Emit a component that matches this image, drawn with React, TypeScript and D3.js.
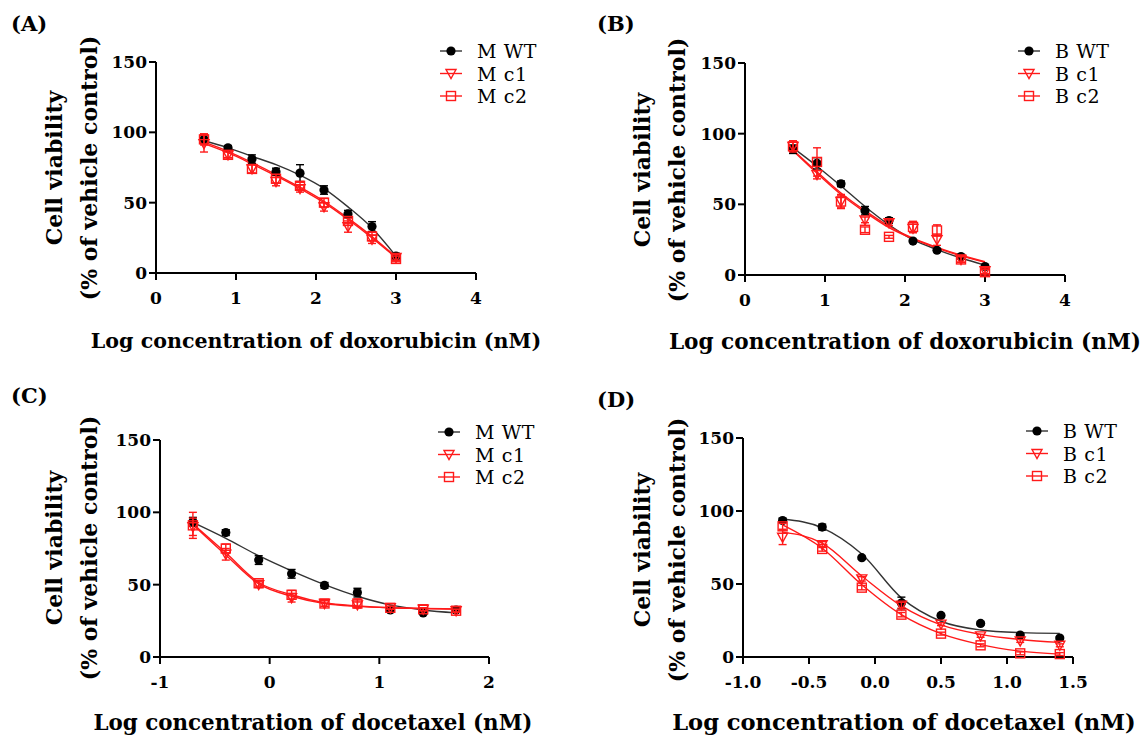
import * as d3 from 'd3';

// ---- data ----
const doseDox = [0.6, 0.9, 1.2, 1.5, 1.8, 2.1, 2.4, 2.7, 3.0];
const doseDtx = [-0.7, -0.4, -0.1, 0.2, 0.5, 0.8, 1.1, 1.4, 1.7];
const doseDtxB = [-0.7, -0.4, -0.1, 0.2, 0.5, 0.8, 1.1, 1.4];

// (A) M cells, doxorubicin
const aWT = [95, 89, 81, 72, 71, 59, 42, 33, 12];
const aWTsd = [3, 1.5, 3, 2.5, 6, 3, 2.5, 3.5, 2];
const aC1 = [92, 84, 74, 65, 60, 47, 33, 24, 11];
const aC1sd = [6, 3, 3, 3, 2.5, 3, 4, 3, 2];
const aC2 = [95, 84, 74, 67, 62, 50, 37, 26, 10];
const aC2sd = [4, 2, 3, 3, 2.5, 3, 2, 3, 2];
const aWTfit = [94, 89, 83, 77, 69.5, 60, 47, 32, 12];
const aC1fit = [92, 85.5, 77.5, 69, 60, 50, 38, 25, 11];
const aC2fit = [93, 86.5, 78.5, 70, 61, 51, 39, 26, 11.5];

// (B) B cells, doxorubicin
const bWT = [89, 79, 64.5, 45.5, 38.5, 24, 17.5, 13, 6];
const bWTsd = [3, 4, 2, 3, 2, 1, 1, 1, 1];
const bC1 = [91, 71, 52, 39, 37, 33, 25, 11, 3];
const bC1sd = [3, 3, 4, 2, 2, 3, 4, 2, 2];
const bC2 = [91, 80, 52, 32, 27, 34, 31.5, 11, 2];
const bC2sd = [4, 10, 5, 2, 1, 4, 4, 2, 2];
const bWTfit = [90, 77, 63, 48.5, 35.5, 25, 18, 12, 7];
const bC1fit = [88.5, 73, 58, 45.5, 34.5, 26, 19.5, 14, 9.5];
const bC2fit = [88, 72, 57, 44.5, 33.5, 25.5, 19, 13.5, 9];

// (C) M cells, docetaxel
const cWT = [93.5, 86, 67, 57.5, 49.5, 44.5, 32.5, 30.5, 32.5];
const cWTsd = [3, 2, 3, 3, 2, 3, 1, 1, 1];
const cC1 = [90, 71, 50, 41, 37, 36, 34, 33, 32];
const cC1sd = [6, 4, 2, 3, 2, 2, 1, 1, 1];
const cC2 = [91, 75, 51, 43, 37, 37, 34, 33, 32];
const cC2sd = [9, 3, 2, 3, 2, 3, 1, 1, 1];
const cWTfit = [93, 82, 70, 59.5, 50, 42, 36, 32.5, 30.5];
const cC1fit = [91.5, 70.5, 50.5, 42, 37, 35, 34, 33.5, 33];
const cC2fit = [92, 72, 51.5, 43, 37.5, 35.3, 34, 33.5, 33.3];

// (D) B cells, docetaxel
const dWT = [93.5, 89, 68, 37, 28.5, 23, 15, 13];
const dWTsd = [1.5, 2, 1, 4, 1, 1, 1, 1];
const dC1 = [82, 77, 53.5, 35.5, 22.5, 14.5, 11, 8];
const dC1sd = [5, 2, 1.5, 2, 1, 1, 1, 1];
const dC2 = [89.5, 74, 47.5, 29, 16, 8, 2.5, 2];
const dC2sd = [2, 1.5, 1.5, 1.5, 1, 1, 1, 1];
const dWTfit = [94.5, 88.5, 70.5, 40.5, 24.5, 18.5, 16.7, 16.2];
const dC1fit = [85.5, 78, 55.5, 35, 22, 15.5, 12, 10];
const dC2fit = [90.5, 74.5, 49.5, 29, 16, 8.5, 4, 2];

const yTicks = [0, 50, 100, 150];
const xTicksDox = [0, 1, 2, 3, 4];
const xTicksC = [-1, 0, 1, 2];
const xTicksD = [-1, -0.5, 0, 0.5, 1, 1.5];

const FONT = "'DejaVu Serif', 'Liberation Serif', serif";
const RED = '#ff1a1a';
const BLACK = '#000';

type Series = { y: number[]; sd: number[]; fit: number[]; shape: 'circle' | 'tri' | 'square' };

const fmtInt = (d: number) => String(d).replace('−', '-');
const fmtOne = (d: number) => d.toFixed(1).replace('−', '-');

const Marker = ({ shape, x, y }: { shape: string; x: number; y: number }) => {
  if (shape === 'circle') return <circle cx={x} cy={y} r={4.6} fill={BLACK} />;
  if (shape === 'tri')
    return (
      <path
        d={`M${x - 5},${y - 4} L${x + 5},${y - 4} L${x},${y + 5} Z`}
        fill="none"
        stroke={RED}
        strokeWidth={1.4}
      />
    );
  return <rect x={x - 4.5} y={y - 4.5} width={9} height={9} fill="none" stroke={RED} strokeWidth={1.4} />;
};

const Panel = (p: any) => {
  const x = d3.scaleLinear().domain(p.xDomain).range(p.xRange);
  const y = d3.scaleLinear().domain([0, 150]).range(p.yRange);
  const line = d3
    .line<number>()
    .x((_, i) => x(p.dose[i]))
    .y(d => y(d))
    .curve(d3.curveMonotoneX);
  const [x0, x1] = p.xRange;
  const [y0, y1] = p.yRange;
  const series: Series[] = p.series;

  return (
    <g style={{ fontFamily: FONT }}>
      <text x={p.labelX} y={p.labelY} fontWeight="bold" fontSize={21}>
        {p.label}
      </text>

      {/* y title */}
      <text
        transform={`translate(${p.yTitleX},${p.yTitleY}) rotate(-90)`}
        textAnchor="middle"
        fontWeight="bold"
        fontSize={22}
      >
        <tspan x={0} y={0}>Cell viability</tspan>
        <tspan x={0} y={35}>(% of vehicle control)</tspan>
      </text>

      {/* x title */}
      <text x={p.xTitleX} y={p.xTitleY} textAnchor="middle" fontWeight="bold" fontSize={p.xTitleSize}>
        {p.xTitle}
      </text>

      {/* axes */}
      <line x1={x0} x2={x0} y1={y0} y2={y1} stroke={BLACK} strokeWidth={2} />
      <line x1={x0 - 1} x2={x1} y1={y0} y2={y0} stroke={BLACK} strokeWidth={2} />
      {yTicks.map(t => (
        <g key={'y' + t}>
          <line x1={x0 - 7} x2={x0} y1={y(t)} y2={y(t)} stroke={BLACK} strokeWidth={2} />
          <text x={x0 - 9} y={y(t)} textAnchor="end" dominantBaseline="central" fontWeight="bold" fontSize={17}>
            {t}
          </text>
        </g>
      ))}
      {p.xTicks.map((t: number) => (
        <g key={'x' + t}>
          <line x1={x(t)} x2={x(t)} y1={y0} y2={y0 + 7} stroke={BLACK} strokeWidth={2} />
          <text x={x(t)} y={y0 + 25} textAnchor="middle" dominantBaseline="central" fontWeight="bold" fontSize={17}>
            {p.fmt(t)}
          </text>
        </g>
      ))}

      {/* fitted curves */}
      {series.map((s, k) => (
        <path
          key={'f' + k}
          d={line(s.fit) || ''}
          fill="none"
          stroke={s.shape === 'circle' ? '#333' : RED}
          strokeWidth={1.4}
        />
      ))}

      {/* error bars and points */}
      {series.map((s, k) => (
        <g key={'s' + k}>
          {s.y.map((v, i) => {
            const cx = x(p.dose[i]);
            const col = s.shape === 'circle' ? BLACK : RED;
            const top = y(v + s.sd[i]);
            const bot = y(v - s.sd[i]);
            return (
              <g key={i}>
                <line x1={cx} x2={cx} y1={top} y2={bot} stroke={col} strokeWidth={1.4} />
                <line x1={cx - 4} x2={cx + 4} y1={top} y2={top} stroke={col} strokeWidth={1.4} />
                <line x1={cx - 4} x2={cx + 4} y1={bot} y2={bot} stroke={col} strokeWidth={1.4} />
                <Marker shape={s.shape} x={cx} y={y(v)} />
              </g>
            );
          })}
        </g>
      ))}

      {/* legend */}
      {p.names.map((n: string, i: number) => {
        const ly = p.legendY + i * 22.5;
        const shape = series[i].shape;
        const col = shape === 'circle' ? '#333' : RED;
        return (
          <g key={n}>
            <line x1={p.legendX} x2={p.legendX + 22} y1={ly} y2={ly} stroke={col} strokeWidth={1.4} />
            <Marker shape={shape} x={p.legendX + 11} y={ly} />
            <text x={p.legendX + 37} y={ly} dominantBaseline="central" fontSize={19} letterSpacing={0.6}>
              {n}
            </text>
          </g>
        );
      })}
    </g>
  );
};

const mk = (y: number[], sd: number[], fit: number[], shape: Series['shape']): Series => ({ y, sd, fit, shape });

export default function App() {
  return (
    <svg width={1145} height={738} style={{ position: 'absolute', left: 0, top: 0, background: '#fff' }}>
      <Panel
        label="(A)" labelX={11} labelY={31}
        xDomain={[0, 4]} xRange={[156, 476]} yRange={[273, 62]}
        xTicks={xTicksDox} fmt={fmtInt}
        xTitle="Log concentration of doxorubicin (nM)" xTitleX={316} xTitleY={348} xTitleSize={20.6}
        yTitleX={62} yTitleY={168}
        legendX={440} legendY={51} names={['M WT', 'M c1', 'M c2']}
        dose={doseDox}
        series={[mk(aWT, aWTsd, aWTfit, 'circle'), mk(aC1, aC1sd, aC1fit, 'tri'), mk(aC2, aC2sd, aC2fit, 'square')]}
      />
      <Panel
        label="(B)" labelX={597} labelY={31}
        xDomain={[0, 4]} xRange={[745, 1065]} yRange={[275, 63]}
        xTicks={xTicksDox} fmt={fmtInt}
        xTitle="Log concentration of doxorubicin (nM)" xTitleX={905} xTitleY={349} xTitleSize={21.6}
        yTitleX={650} yTitleY={170}
        legendX={1018} legendY={51} names={['B WT', 'B c1', 'B c2']}
        dose={doseDox}
        series={[mk(bWT, bWTsd, bWTfit, 'circle'), mk(bC1, bC1sd, bC1fit, 'tri'), mk(bC2, bC2sd, bC2fit, 'square')]}
      />
      <Panel
        label="(C)" labelX={11} labelY={403}
        xDomain={[-1, 2]} xRange={[160, 489]} yRange={[657, 440]}
        xTicks={xTicksC} fmt={fmtInt}
        xTitle="Log concentration of docetaxel (nM)" xTitleX={313} xTitleY={730} xTitleSize={21.4}
        yTitleX={62} yTitleY={548}
        legendX={438} legendY={432} names={['M WT', 'M c1', 'M c2']}
        dose={doseDtx}
        series={[mk(cWT, cWTsd, cWTfit, 'circle'), mk(cC1, cC1sd, cC1fit, 'tri'), mk(cC2, cC2sd, cC2fit, 'square')]}
      />
      <Panel
        label="(D)" labelX={597} labelY={407}
        xDomain={[-1, 1.5]} xRange={[743, 1073]} yRange={[657, 438]}
        xTicks={xTicksD} fmt={fmtOne}
        xTitle="Log concentration of docetaxel (nM)" xTitleX={904} xTitleY={730} xTitleSize={22.6}
        yTitleX={650} yTitleY={550}
        legendX={1026} legendY={431} names={['B WT', 'B c1', 'B c2']}
        dose={doseDtxB}
        series={[mk(dWT, dWTsd, dWTfit, 'circle'), mk(dC1, dC1sd, dC1fit, 'tri'), mk(dC2, dC2sd, dC2fit, 'square')]}
      />
    </svg>
  );
}
